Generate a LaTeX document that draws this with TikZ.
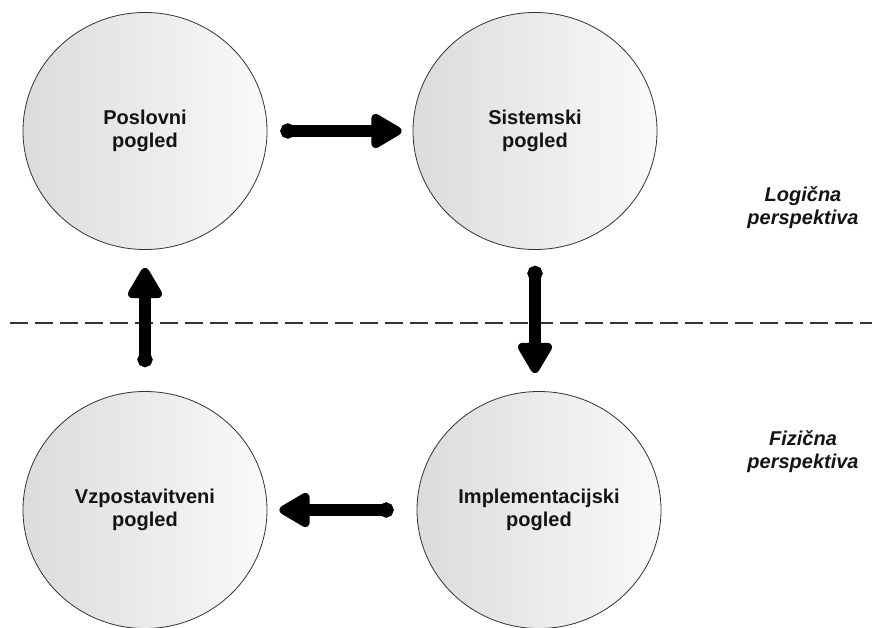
\documentclass[tikz,border=0pt]{standalone}
\usepackage{fontspec}
\setmainfont{Liberation Sans}
\usetikzlibrary{arrows.meta,shapes.geometric}

\tikzset{
  view/.style={ellipse, draw=black!80, line width=0.8pt,
    minimum width=244pt, minimum height=237pt, inner sep=0pt,
    left color=black!14, right color=black!2,
    text=black!92, align=center,
    font=\fontsize{20}{23}\selectfont\bfseries},
  flow/.style={line width=12pt, draw=black,
    {Circle[length=15pt,width=15pt]}-{Triangle[length=35pt,width=38pt,round]}},
  perspective/.style={align=center, inner sep=0pt, text=black!92,
    font=\fontsize{20}{23}\selectfont\bfseries\itshape},
  divider/.style={draw=black!80, line width=1.8pt,
    dash pattern=on 18pt off 7pt}
}

\begin{document}
\begin{tikzpicture}[x=1pt,y=-1pt]
  \useasboundingbox (0,0) rectangle (872,628);

  % the four views
  \node[view] (pv) at (145,131) {Poslovni\\pogled};
  \node[view] (sv) at (535,131) {Sistemski\\pogled};
  \node[view] (vv) at (145,510) {Vzpostavitveni\\pogled};
  \node[view] (iv) at (539,510) {Implementacijski\\pogled};

  % boundary between the logical and the physical perspective
  \coordinate (divl) at (10,323);
  \coordinate (divr) at (872,323);
  \draw[divider] (divl) -- (divr);

  \node[perspective] (lp) at (803,208) {Logična\\perspektiva};
  \node[perspective] (fp) at (803,452) {Fizična\\perspektiva};

  % cycle between the views
  \draw[flow, shorten <=13pt, shorten >=11pt] (pv.east) -- (sv.west);
  \draw[flow, shorten <=16pt, shorten >=18pt] (sv.south) -- (sv.south |- iv.north);
  \draw[flow, shorten <=23pt, shorten >=12pt] (iv.west) -- (vv.east);
  \draw[flow, shorten <=24pt, shorten >=18pt] (vv.north) -- (pv.south);
\end{tikzpicture}
\end{document}
